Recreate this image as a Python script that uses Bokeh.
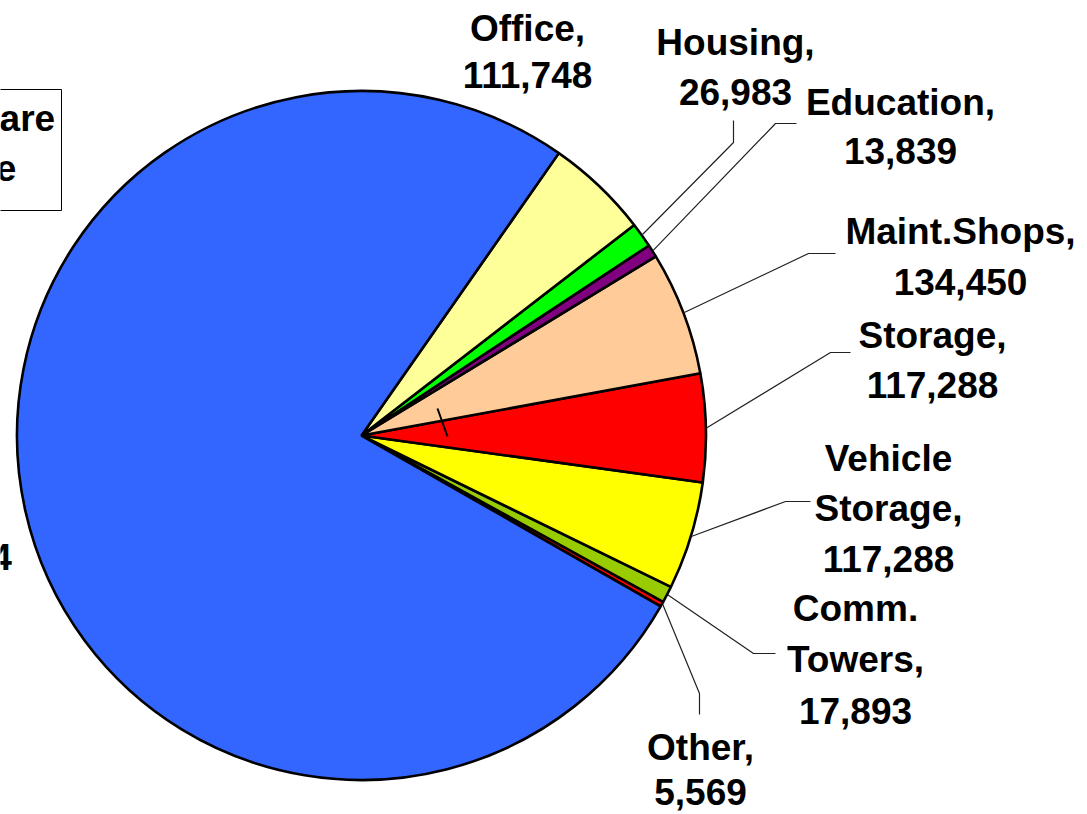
import math
from bokeh.plotting import figure
from bokeh.models import Range1d, ColumnDataSource
from bokeh.core.properties import value
from bokeh.embed import file_html
from bokeh.resources import INLINE

# ---------------- data ----------------
categories = ["Other", "Comm. Towers", "Vehicle Storage", "Storage", "Maint.Shops",
              "Education", "Housing", "Office", "Ranges"]
values = [5569, 17893, 117288, 117288, 134450, 13839, 26983, 111748, 1769404]
colors = ["#FF0000", "#99CC00", "#FFFF00", "#FF0000", "#FFCC99",
          "#800080", "#00FF00", "#FFFF99", "#3366FF"]
box_lines = ["Total Square", "Footage"]

# ---------------- layout (pixel coordinates of the picture) ----------------
W, H = 1087, 814
TDY = -9  # baseline correction for text


def ix(x):
    return x


def iy(y):
    return H - y


CX, CY, R = ix(361), iy(435), 344.5
START_DEG = -29.73
FONT = value("Liberation Sans")
FS = "37px"

# label anchors: (center x, first baseline y, line spacing)
label_pos = [
    (700, 756, 44),   # Other
    (855, 617, 51),   # Comm. Towers
    (888, 467, 50),   # Vehicle Storage
    (932, 344, 49),   # Storage
    (960, 240, 50),   # Maint.Shops
    (900, 111, 48),   # Education
    (735, 51, 49),    # Housing
    (527, 37, 46),    # Office
    (-71, 515, 50),   # big slice (mostly outside the picture)
]
# leader elbows / ends (None = no leader)
leader_pts = [
    ((699, 693), (699, 714)),
    ((753, 653), (775, 653)),
    ((785, 501), (810, 501)),
    ((830, 352), (850, 352)),
    ((808, 253), (835, 253)),
    ((775, 123), (796, 123)),
    ((733, 142), (733, 120)),
    None,
    None,
]

# ---------------- figure ----------------
p = figure(width=W, height=H, x_range=Range1d(0, W), y_range=Range1d(0, H),
           output_backend="svg", toolbar_location=None, min_border=0,
           x_axis_type=None, y_axis_type=None)
p.grid.visible = False
p.outline_line_color = None
p.background_fill_color = "white"
p.border_fill_color = "white"

total = float(sum(values))
starts, ends, mids = [], [], []
a = math.radians(START_DEG)
for v in values:
    span = 2 * math.pi * v / total
    starts.append(a)
    ends.append(a + span)
    mids.append(a + span / 2)
    a += span

src = ColumnDataSource(dict(start=starts, end=ends, color=colors,
                            cat=categories, val=values))
p.wedge(x=CX, y=CY, radius=R, start_angle="start", end_angle="end",
        fill_color="color", line_color="black", line_width=2.6, source=src)

# small tick mark inside the pie
p.line(x=[ix(437), ix(447)], y=[iy(408), iy(436)], line_color="black", line_width=2)

# leader lines
lx, ly = [], []
for m, pts in zip(mids, leader_pts):
    if pts is None:
        continue
    sx = CX + (R + 1) * math.cos(m)
    sy = CY + (R + 1) * math.sin(m)
    (ex, ey), (fx, fy) = pts
    lx.append([sx, ix(ex), ix(fx)])
    ly.append([sy, iy(ey), iy(fy)])
p.multi_line(xs=lx, ys=ly, line_color="#222222", line_width=1.2)

# labels
tx, ty, tt = [], [], []
for cat, v, (cx, b0, sp) in zip(categories, values, label_pos):
    lines = (cat.replace(" ", "\n") + ",\n" + f"{v:,}").split("\n")
    for k, ln in enumerate(lines):
        tx.append(ix(cx))
        ty.append(iy(b0 + k * sp + TDY))
        tt.append(ln)
p.text(x=tx, y=ty, text=tt, text_align="center", text_baseline="alphabetic",
       text_font=FONT, text_font_size=FS, text_font_style="bold", text_color="black")

# box at the left (mostly outside the picture)
p.quad(left=ix(-180), right=ix(61), top=iy(89), bottom=iy(210),
       fill_color="white", line_color="black", line_width=1)
p.text(x=[ix(-56), ix(-56)], y=[iy(127 + TDY), iy(177 + TDY)], text=box_lines,
       text_align="center", text_baseline="alphabetic",
       text_font=FONT, text_font_size=FS, text_font_style="bold", text_color="black")

open("out.html", "w").write(file_html(p, INLINE))
